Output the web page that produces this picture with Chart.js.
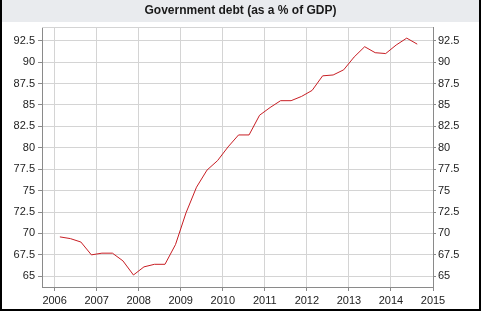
<!DOCTYPE html>
<html>
<head>
<meta charset="utf-8">
<script src="https://cdn.jsdelivr.net/npm/chart.js@4/dist/chart.umd.min.js"></script>
<style>
  html, body { margin: 0; padding: 0; background: #fff; }
  #wrap { width: 481px; height: 311px; position: relative; }
</style>
</head>
<body>
<div id="wrap"><canvas id="debtChart"></canvas></div>
<script>
// Quarterly observations, 2006 Q1 .. 2014 Q3
const quarters = [
  '2006 Q1', '2006 Q2', '2006 Q3', '2006 Q4',
  '2007 Q1', '2007 Q2', '2007 Q3', '2007 Q4',
  '2008 Q1', '2008 Q2', '2008 Q3', '2008 Q4',
  '2009 Q1', '2009 Q2', '2009 Q3', '2009 Q4',
  '2010 Q1', '2010 Q2', '2010 Q3', '2010 Q4',
  '2011 Q1', '2011 Q2', '2011 Q3', '2011 Q4',
  '2012 Q1', '2012 Q2', '2012 Q3', '2012 Q4',
  '2013 Q1', '2013 Q2', '2013 Q3', '2013 Q4',
  '2014 Q1', '2014 Q2', '2014 Q3'
];

// Government debt, % of GDP
const debt = [
  69.6, 69.4, 69.0, 67.5,
  67.7, 67.7, 66.8, 65.15,
  66.1, 66.4, 66.4, 68.7,
  72.4, 75.4, 77.4, 78.5,
  80.1, 81.5, 81.5, 83.8,
  84.7, 85.5, 85.5, 86.0,
  86.7, 88.4, 88.5, 89.1,
  90.6, 91.8, 91.1, 91.0,
  92.0, 92.8, 92.1
];

const yearTicks = [2006, 2007, 2008, 2009, 2010, 2011, 2012, 2013, 2014, 2015];

// each quarter is plotted at its middle (Q1 -> mid February)
function quarterToYear(label) {
  const parts = label.split(' Q');
  return Number(parts[0]) + (Number(parts[1]) - 1) / 4 + 0.125;
}

const points = quarters.map((q, i) => ({ x: quarterToYear(q), y: debt[i] }));

const FONT = 'Liberation Sans, Arial, sans-serif';
const gridColor = '#d4d4d4';
const axisColor = '#8a8a8a';

// frame: grey title band, black outer border, light top line of the plot
const framePlugin = {
  id: 'frame',
  beforeDraw(chart) {
    const ctx = chart.ctx;
    const w = chart.width, h = chart.height;
    ctx.save();
    ctx.fillStyle = '#fff';
    ctx.fillRect(0, 0, w, h);
    ctx.fillStyle = '#e9ebee';
    ctx.fillRect(0, 0, w, 22);
    ctx.fillStyle = '#000';
    ctx.fillRect(0, 0, 2, h);
    ctx.fillRect(w - 2, 0, 2, h);
    ctx.fillRect(0, h - 2, w, 2);
    ctx.restore();
  },
  beforeDatasetsDraw(chart) {
    const a = chart.chartArea;
    const ctx = chart.ctx;
    ctx.save();
    ctx.strokeStyle = gridColor;
    ctx.lineWidth = 1;
    ctx.beginPath();
    ctx.moveTo(a.left, a.top + 0.5);
    ctx.lineTo(a.right, a.top + 0.5);
    ctx.stroke();
    ctx.restore();
  }
};

const yTicks = {
  stepSize: 2.5,
  includeBounds: false,
  color: '#222',
  font: { family: FONT, size: 11 },
  callback: (v) => String(v)
};

new Chart(document.getElementById('debtChart'), {
  type: 'line',
  data: {
    datasets: [{
      data: points,
      borderColor: '#c81e24',
      borderWidth: 1,
      pointRadius: 0,
      tension: 0,
      fill: false
    }]
  },
  options: {
    responsive: true,
    maintainAspectRatio: false,
    animation: false,
    layout: { padding: 0 },
    plugins: {
      legend: { display: false },
      tooltip: { enabled: false },
      title: {
        display: true,
        text: 'Government debt (as a % of GDP)',
        color: '#1a1a1a',
        font: { family: FONT, size: 12, weight: 'bold' },
        padding: { top: 3.5, bottom: 9.1 }
      }
    },
    scales: {
      x: {
        type: 'linear',
        min: 2005.7,
        max: 2015,
        afterBuildTicks: (scale) => { scale.ticks = yearTicks.map(v => ({ value: v })); },
        ticks: {
          stepSize: 1,
          includeBounds: false,
          autoSkip: false,
          maxRotation: 0,
          color: '#222',
          padding: 3,
          font: { family: FONT, size: 11 },
          callback: (v) => String(v)
        },
        grid: { color: gridColor, tickColor: axisColor, tickLength: 4 },
        border: { color: axisColor, width: 1 },
        afterFit: (scale) => { scale.height = 24; }
      },
      y: {
        position: 'left',
        min: 63.75,
        max: 94.1,
        ticks: Object.assign({}, yTicks, { padding: 3 }),
        grid: { color: gridColor, tickColor: axisColor, tickLength: 4 },
        border: { color: axisColor, width: 1 },
        afterFit: (scale) => { scale.width = 42; }
      },
      y2: {
        position: 'right',
        min: 63.75,
        max: 94.1,
        ticks: Object.assign({}, yTicks, { padding: 2 }),
        grid: { drawOnChartArea: false, tickColor: axisColor, tickLength: 3 },
        border: { color: axisColor, width: 1 },
        afterFit: (scale) => { scale.width = 48; }
      }
    }
  },
  plugins: [framePlugin]
});
</script>
</body>
</html>
